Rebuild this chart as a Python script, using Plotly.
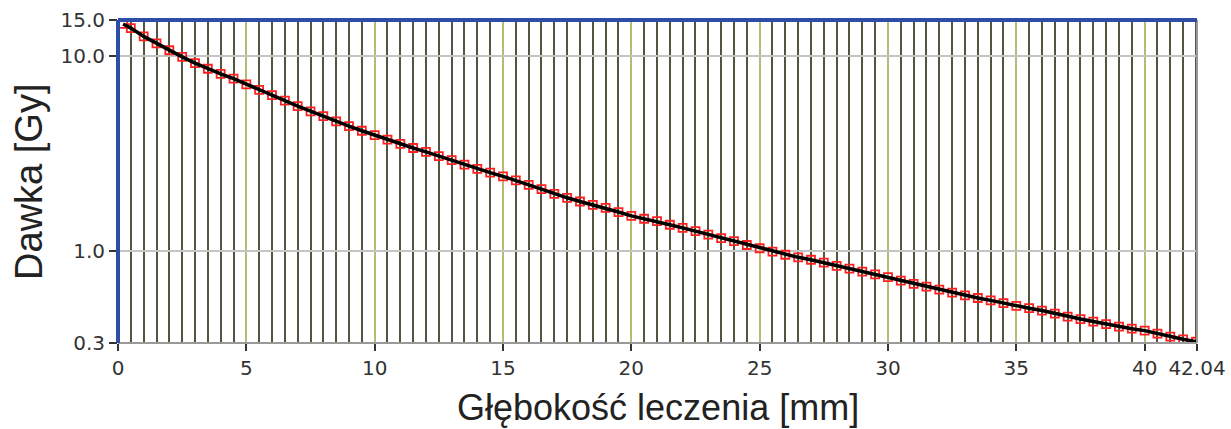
import plotly.graph_objects as go
import math

# Data
depth_mm = [0.2, 0.5, 1.0, 1.5, 2.0, 2.5, 3.0, 3.5, 4.0, 4.5, 5.0, 5.5, 6.0, 6.5, 7.0, 7.5,
            8.0, 8.5, 9.0, 9.5, 10.0, 10.5, 11.0, 11.5, 12.0, 12.5, 13.0, 13.5, 14.0, 14.5,
            15.0, 15.5, 16.0, 16.5, 17.0, 17.5, 18.0, 18.5, 19.0, 19.5, 20.0, 20.5, 21.0,
            21.5, 22.0, 22.5, 23.0, 23.5, 24.0, 24.5, 25.0, 25.5, 26.0, 26.5, 27.0, 27.5,
            28.0, 28.5, 29.0, 29.5, 30.0, 30.5, 31.0, 31.5, 32.0, 32.5, 33.0, 33.5, 34.0,
            34.5, 35.0, 35.5, 36.0, 36.5, 37.0, 37.5, 38.0, 38.5, 39.0, 39.5, 40.0, 40.5,
            41.0, 41.5, 42.0]
dose_gy = [14.6, 13.9, 12.6, 11.6, 10.7, 9.9, 9.2, 8.6, 8.1, 7.65, 7.15, 6.7, 6.3, 5.9, 5.53, 5.2,
           4.91, 4.62, 4.36, 4.13, 3.92, 3.72, 3.54, 3.37, 3.22, 3.06, 2.92, 2.77, 2.63, 2.52,
           2.41, 2.30, 2.18, 2.07, 1.96, 1.87, 1.79, 1.72, 1.66, 1.58, 1.51, 1.46, 1.42,
           1.36, 1.31, 1.26, 1.21, 1.16, 1.12, 1.07, 1.03, 0.99, 0.954, 0.925, 0.899, 0.868,
           0.837, 0.809, 0.782, 0.757, 0.732, 0.703, 0.676, 0.654, 0.632, 0.610, 0.590, 0.572, 0.556,
           0.538, 0.521, 0.507, 0.493, 0.476, 0.459, 0.446, 0.433, 0.420, 0.408, 0.398, 0.389, 0.375,
           0.362, 0.351, 0.341]

x_tick_vals = [0, 5, 10, 15, 20, 25, 30, 35, 40, 42.04]
x_tick_text = ["0", "5", "10", "15", "20", "25", "30", "35", "40", "42.04"]
y_min, y_max = 0.336, 15.3
y_tick_vals = [y_min, 1.0, 10.0, y_max]
y_tick_text = ["0.3", "1.0", "10.0", "15.0"]

fig = go.Figure()
fig.add_trace(go.Scatter(
    x=depth_mm, y=dose_gy, mode="markers",
    marker=dict(symbol="square-open", size=8, color="#ff2020", line=dict(width=1.8, color="#ff2020")),
    showlegend=False, hoverinfo="skip"))
fig.add_trace(go.Scatter(
    x=depth_mm, y=dose_gy, mode="lines",
    line=dict(color="black", width=3.5), showlegend=False))

tick_font = dict(family="DejaVu Sans", size=20, color="#333333")
x_title_font = dict(family="Liberation Sans, Arial, sans-serif", size=36, color="#222222")
y_title_font = dict(family="Liberation Sans, Arial, sans-serif", size=38, color="#222222")

fig.update_xaxes(
    range=[0, 42.04], tickmode="array", tickvals=x_tick_vals, ticktext=x_tick_text,
    showgrid=True, gridcolor="#b9b976", gridwidth=2,
    minor=dict(tick0=0, dtick=0.5, showgrid=True, gridcolor="#55553f", gridwidth=2, ticks=""),
    ticks="outside", ticklen=7, tickwidth=1.5, tickcolor="#333333",
    tickfont=tick_font, zeroline=False, showline=False, automargin=False)
fig.update_yaxes(
    type="log", range=[math.log10(y_min), math.log10(y_max)],
    tickmode="array", tickvals=y_tick_vals, ticktext=y_tick_text,
    showgrid=True, gridcolor="#c4c4c4", gridwidth=2,
    ticks="outside", ticklen=8, tickwidth=1.5, tickcolor="#333333",
    tickfont=tick_font, zeroline=False, showline=False, automargin=False)

# Axis titles
fig.add_annotation(text="Głębokość leczenia [mm]", xref="paper", yref="paper",
                   x=0.5, y=-0.2, yanchor="middle", xanchor="center",
                   showarrow=False, font=x_title_font)
fig.add_annotation(text="Dawka [Gy]", xref="paper", yref="paper",
                   x=-0.083, y=0.5, xanchor="center", yanchor="middle", textangle=-90,
                   showarrow=False, font=y_title_font)

# Frame of the plot area
fig.add_shape(type="line", xref="paper", yref="paper", x0=0, x1=1, y0=0, y1=0,
              line=dict(color="#9a9a9a", width=2), layer="above")
fig.add_shape(type="line", xref="paper", yref="paper", x0=1, x1=1, y0=0, y1=1,
              line=dict(color="#9a9a9a", width=2), layer="above")
fig.add_shape(type="line", xref="paper", yref="paper", x0=0, x1=1, y0=1, y1=1,
              line=dict(color="#2e4da6", width=4), layer="above")
fig.add_shape(type="line", xref="paper", yref="paper", x0=0, x1=0, y0=0, y1=1,
              line=dict(color="#2e4da6", width=4), layer="above")

fig.update_layout(
    width=1231, height=429,
    margin=dict(l=118, r=34, t=20, b=86),
    paper_bgcolor="white", plot_bgcolor="white",
    showlegend=False)

fig.write_html("out.html", config={"displayModeBar": False},
               post_script="document.body.style.margin='0';document.body.style.overflow='hidden';")
